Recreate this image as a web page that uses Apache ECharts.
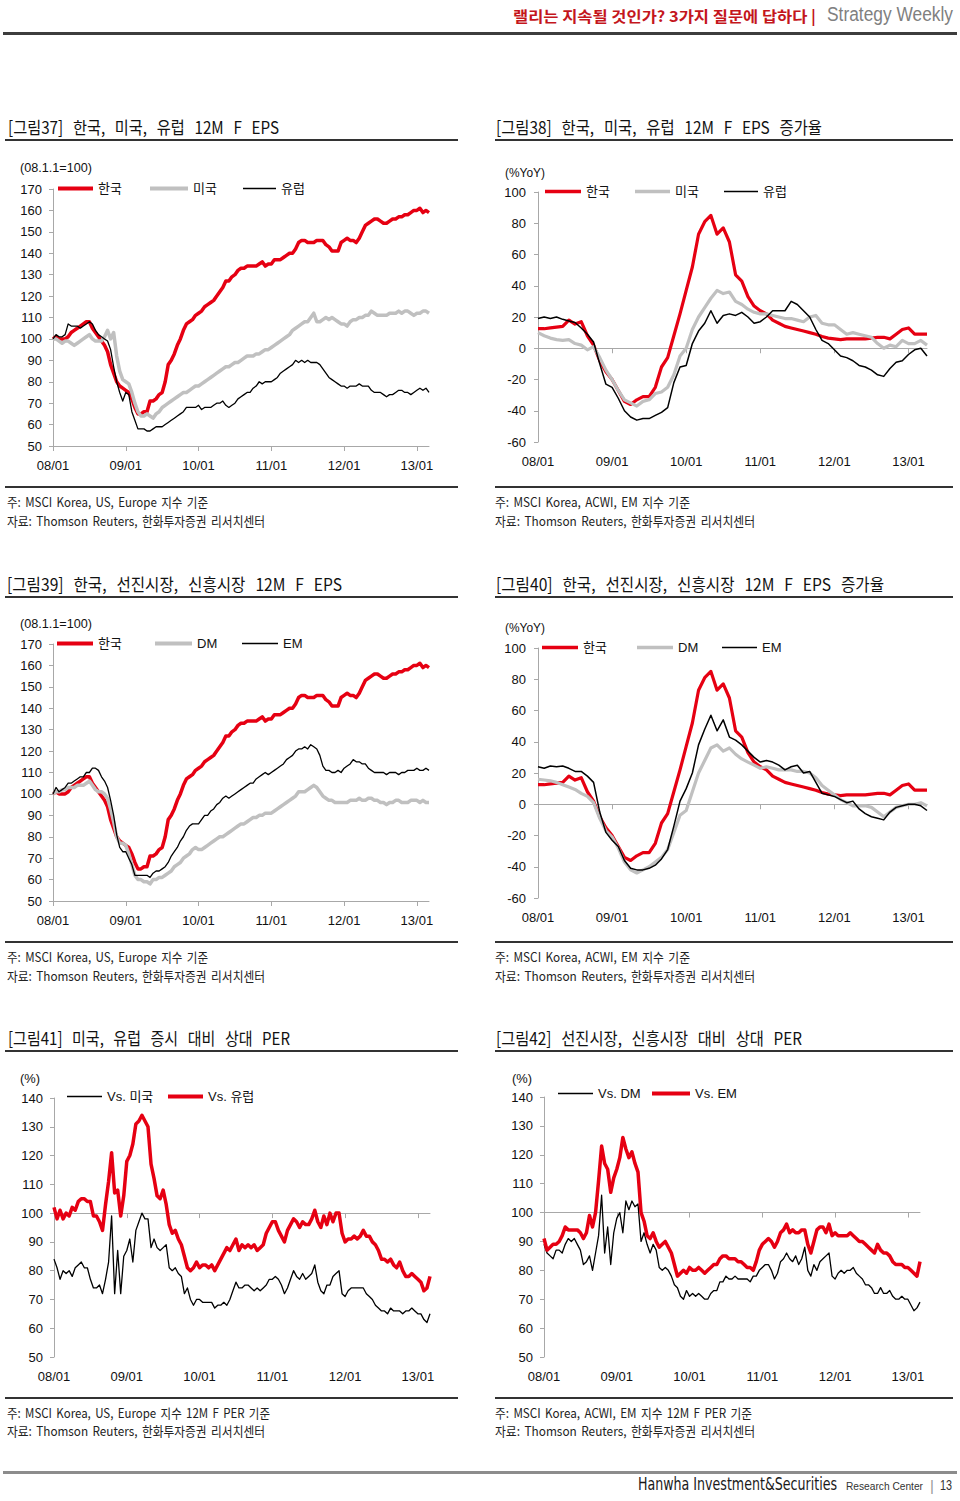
<!DOCTYPE html>
<html><head><meta charset="utf-8">
<script src="https://cdn.jsdelivr.net/npm/echarts@6/dist/echarts.min.js"></script>
<style>
html,body{margin:0;padding:0;background:#fff;}
#page{position:relative;width:960px;height:1501px;overflow:hidden;background:#fff;}
#chart{position:absolute;left:0;top:0;width:960px;height:1501px;}
.t{position:absolute;white-space:pre;line-height:1;transform-origin:0 50%;}
.rule{position:absolute;}
</style></head>
<body><div id="page"><div id="chart"></div></div>
<script>
// ---------------- DATA ----------------
const yearLabels = ['08/01','09/01','10/01','11/01','12/01','13/01'];

// semi-monthly index (1st & 16th of each month), Jan 2008 .. Mar 2013
const koreaEps = [
 100,101,100,100,100,101,103,104,105,106,107,108,108,105,103,101,99,97,94,88,84,80,78,77,
 76,75,72,68,65,65,66,66,71,71,72,74,75,80,88,90,93,97,100,104,107,108,109,111,
 112,113,115,116,117,118,120,122,124,127,127,129,130,132,133,133,134,134,134,134,135,136,134,135,
 135,137,137,137,138,139,140,140,142,145,146,146,145,145,145,146,146,146,144,143,141,141,141,145,
 146,147,146,146,145,147,150,153,154,155,156,156,155,154,154,155,156,156,157,157,158,158,159,160,
 160,161,159,160,159];
const usEps = [
 100,100,99,98,99,99,98,97,98,99,100,101,102,100,99,99,99,101,104,100,103,92,85,81,
 80,79,75,70,66,64,64,65,64,63,65,66,68,69,70,71,72,73,74,75,75,76,77,78,
 78,79,80,81,82,83,84,85,86,87,87,88,89,89,90,91,92,92,92,93,93,94,95,95,
 96,97,98,99,100,101,102,104,105,106,107,108,108,110,112,108,108,109,110,109,110,109,108,107,
 107,106,108,109,109,110,110,111,111,113,112,111,111,111,111,112,112,112,113,112,113,113,112,111,
 112,112,113,113,112];
const euEps = [
 100,102,101,101,102,107,106,106,106,105,106,107,108,107,104,102,101,100,99,95,87,80,75,71,
 75,74,66,62,58,58,58,57,57,58,59,59,59,60,61,62,63,64,65,66,68,68,68,68,
 69,67,68,68,68,69,70,70,71,69,68,69,70,72,73,74,75,75,77,78,80,79,80,80,
 80,81,82,84,85,86,87,88,90,89,90,89,90,89,89,89,88,86,84,82,81,80,79,78,
 78,77,78,78,78,79,78,78,78,76,75,75,75,74,73,74,74,75,76,76,75,75,74,75,
 76,77,76,77,75];
const dmEps = [
 100,101,101,102,102,103,103,103,104,104,104,105,106,104,102,101,101,100,98,93,87,80,77,77,
 76,72,67,62,60,60,59,59,58,60,60,61,61,62,63,64,66,67,68,70,71,72,74,75,
 74,74,75,76,77,78,79,80,80,81,82,83,84,85,86,86,87,88,89,89,90,90,91,91,
 91,92,93,94,95,96,97,98,99,101,101,101,102,103,104,103,101,99,98,97,97,96,96,96,
 96,96,97,97,97,98,97,97,98,98,97,97,96,96,95,96,96,97,97,96,96,96,97,97,
 97,96,97,96,96];
const emEps = [
 100,103,101,102,103,105,105,106,107,108,108,110,110,112,112,111,108,106,103,97,90,81,75,73,
 73,70,67,62,62,62,62,62,61,63,64,64,65,66,68,71,73,75,78,80,83,85,86,86,
 86,88,90,90,92,93,95,96,98,99,98,99,100,101,102,103,104,105,105,107,108,109,110,109,
 110,111,112,113,114,116,117,118,120,121,121,122,121,123,122,121,118,113,111,111,110,110,111,110,
 112,113,114,116,115,115,114,114,112,111,110,110,110,110,109,110,110,110,109,110,110,111,111,111,
 112,111,111,112,111];

// monthly YoY (%), Jan 2008 .. Apr 2013
const koreaYoY = [12.5,12.5,13,13.5,14,18,15.5,17,8,2, -8,-15,-20,-27,-34,-36,-33,-31,-31,-25,
 -12,-6,8,22,37,52,73,81,85,73, 77,68,47,43,33,27,24,22,18,16, 14,13,12,11,10,9,7.5,6.5,6,5.5,
 6,6,6,6,6.5,7,7,6,9,12, 13,9,9,9];
const usYoY = [10,8,6.5,5.5,5,5.5,3,2,-1,1, -6,-14,-20,-27,-33,-35,-37,-34,-33,-29,
 -28,-25,-17,-5,0,12,20,26,32,37, 35,36,30,28,25,23,22,22,21,20, 19,19,18,17,20,21,16,15,15,12,
 9,10,9,8,7,3,0,2,1,5, 3,3,5,2];
const euYoY = [19,20,19,20,18.5,17.5,16.5,13,9,4, -10,-23,-25,-32,-40,-44,-46,-45,-45,-43,
 -41,-38,-22,-12,-11,3,11,16,24,16, 21,22,21,23,20,16,17,20,24,24, 24,30,28,24,20,12,5,3,-1,-5,
 -6,-8,-11,-12,-14,-17,-18,-13,-9,-8, -4,-1,0,-5];
const dmYoY = [16,15.5,15,14,12.5,11,9.5,7,5,1, -9,-17,-21,-28,-37,-42,-44,-42,-40,-37,
 -34,-29,-18,-7,-4,8,20,28,36,38, 34,36,32,29,27,25,23,24,23,22, 22,22,21,21,20,17,12,9,6,3,
 1,-1,-1,-1,-2,-5,-8,-5,-2,-1, 0,0,1,-1];
const emYoY = [24,23,24.5,24,24.5,23,21,21,18,14, -5,-18,-23,-27,-36,-41,-42,-42,-41,-39,
 -35,-29,-14,2,10,20,38,48,57,47, 54,43,41,38,34,30,27,28,27,25, 22,24,25,20,21,14,7,6,5,3,
 1,2,-3,-6,-8,-9,-10,-5,-2,-1, 0,0,-1,-4];

// relative 12M F PER (%), semi-monthly
const perVsUs = [
 84,81,77,80,79,80,78,81,82,83,81,81,77,74,74,75,72,77,83,99,72,87,72,85,
 87,91,83,94,97,100,98,98,88,91,88,87,88,89,81,80,81,79,78,72,74,70,68,70,
 70,69,69,69,69,67,68,68,69,68,70,73,76,74,74,75,75,74,73,74,73,74,75,77,
 77,78,77,75,72,74,77,80,78,77,79,77,78,79,82,76,73,72,75,75,78,79,80,72,
 71,73,74,74,74,74,74,72,71,70,68,67,66,66,65,67,66,66,66,65,66,66,67,66,
 65,65,63,62,65];
const perVsEu = [
 102,98,101,98,100,99,102,101,104,105,105,104,104,99,99,97,94,103,111,121,107,108,99,106,
 118,120,124,131,132,134,132,130,117,112,106,105,108,103,96,93,94,91,89,85,81,80,81,83,
 81,82,82,81,82,80,82,84,86,88,87,89,91,87,89,88,89,88,89,87,88,89,93,95,
 97,97,94,92,90,94,96,98,97,95,97,96,96,98,101,97,95,99,96,100,97,100,100,93,
 90,91,91,92,91,92,94,92,92,90,89,87,84,84,83,84,82,81,83,80,78,78,79,78,
 77,76,73,74,78];
const perVsDm = [
 89,86,85,84,87,87,86,89,91,90,91,89,87,82,83,85,80,86,92,106,86,95,82,93,
 98,100,93,104,101,104,102,103,90,93,89,86,89,87,81,80,81,80,78,75,74,71,70,73,
 71,72,71,72,71,70,70,72,73,73,76,76,78,77,77,78,77,77,77,77,76,78,78,80,
 81,82,82,80,77,79,83,84,86,84,83,85,82,84,88,80,78,82,80,83,84,85,86,78,
 77,79,80,79,80,80,81,79,78,77,75,75,74,72,72,74,72,72,73,71,70,70,71,70,
 70,68,66,67,69];
const perVsEm = [
 91,87,88,89,89,90,92,95,94,94,94,94,93,91,93,99,95,100,111,123,117,115,107,112,
 115,119,126,122,119,121,117,114,100,97,92,91,93,90,88,89,90,88,86,82,78,79,80,79,
 81,80,80,81,80,79,80,81,82,82,84,85,85,84,84,84,83,83,82,81,81,80,83,87,
 89,90,91,90,88,90,93,94,96,93,94,93,93,94,94,89,86,90,94,95,95,93,96,92,
 93,92,92,92,92,93,92,91,90,90,89,88,87,86,89,87,86,86,85,83,82,82,82,81,
 81,80,79,78,83];

// category axes (dates)
const semiCats = [];
for (let i = 0; i < koreaEps.length; i++) {
  const y = 2008 + Math.floor(i / 24), m = Math.floor((i % 24) / 2) + 1, d = (i % 2) ? 16 : 1;
  semiCats.push(y + '-' + String(m).padStart(2, '0') + '-' + String(d).padStart(2, '0'));
}
const monthCats = [];
for (let i = 0; i < koreaYoY.length; i++) {
  const y = 2008 + Math.floor(i / 12), m = (i % 12) + 1;
  monthCats.push(y + '-' + String(m).padStart(2, '0'));
}

// ---------------- STYLE ----------------
const RED = '#e60012', GRAY = '#c0c0c0', BLACK = '#000000', AXIS = '#a8a8a8';
const axisFont = "'Liberation Sans', Arial, sans-serif";
const legendFont = "'Liberation Sans', 'Noto Sans CJK KR', sans-serif";

const grids = [], xAxes = [], yAxes = [], series = [], legends = [];

function addChart(cfg) {
  const gi = grids.length;
  grids.push(cfg.grid);
  const step = cfg.step;
  const tickFn = (i) => i % step === 0;
  const hasRef = cfg.ref !== undefined;
  const xi = xAxes.length;
  xAxes.push({
    type: 'category', gridIndex: gi, data: cfg.cats, boundaryGap: false, position: 'bottom',
    axisLine: { show: !hasRef, onZero: false, lineStyle: { color: AXIS, width: 1 } },
    axisTick: { show: !hasRef, interval: tickFn, length: 5, lineStyle: { color: AXIS } },
    axisLabel: { interval: tickFn, formatter: (v, i) => yearLabels[i / step], margin: cfg.xMargin,
      fontSize: 13, color: '#111', fontFamily: axisFont },
    splitLine: { show: false }
  });
  if (hasRef) {
    const off = cfg.grid.height * (cfg.ref - cfg.min) / (cfg.max - cfg.min);
    xAxes.push({
      type: 'category', gridIndex: gi, data: cfg.cats, boundaryGap: false, position: 'bottom', offset: -off,
      axisLine: { show: true, onZero: false, lineStyle: { color: AXIS, width: 1 } },
      axisTick: { show: true, interval: tickFn, length: 5, lineStyle: { color: AXIS } },
      axisLabel: { show: false }, splitLine: { show: false }
    });
  }
  const yi = yAxes.length;
  yAxes.push({
    type: 'value', gridIndex: gi, min: cfg.min, max: cfg.max, interval: cfg.interval,
    axisLine: { show: true, lineStyle: { color: AXIS, width: 1 } },
    axisTick: { show: true, length: 4, lineStyle: { color: AXIS } },
    axisLabel: { margin: cfg.yMargin, fontSize: 13, color: '#111', fontFamily: axisFont },
    splitLine: { show: false }
  });
  cfg.series.forEach(s => series.push({
    type: 'line', name: s.name, data: s.data, xAxisIndex: xi, yAxisIndex: yi,
    symbol: 'none', showSymbol: false, silent: true,
    lineStyle: { color: s.color, width: s.width, join: 'round' }, itemStyle: { color: s.color }
  }));
  cfg.legend.forEach(l => legends.push({
    data: [{ name: l.name, icon: 'rect' }], left: l.x, top: l.cy - 8, padding: 0,
    itemWidth: l.w, itemHeight: l.h, selectedMode: false,
    textStyle: { fontSize: 13, color: '#111', fontFamily: legendFont }
  }));
}

// [그림37]
addChart({ grid: { left: 53, top: 189, width: 376, height: 257 }, cats: semiCats, step: 24,
  min: 50, max: 170, interval: 10, xMargin: 13, yMargin: 11,
  series: [{ name: '한국', data: koreaEps, color: RED, width: 3.5 },
           { name: '미국', data: usEps, color: GRAY, width: 3.5 },
           { name: '유럽', data: euEps, color: BLACK, width: 1.3 }],
  legend: [{ name: '한국', x: 58, w: 35, cy: 190, h: 4 },
           { name: '미국', x: 150, w: 38, cy: 190, h: 4 },
           { name: '유럽', x: 243, w: 33, cy: 190, h: 1.5 }] });
// [그림38]
addChart({ grid: { left: 538, top: 192, width: 389, height: 250 }, cats: monthCats, step: 12,
  min: -60, max: 100, interval: 20, ref: 0, xMargin: 13, yMargin: 12,
  series: [{ name: '한국', data: koreaYoY, color: RED, width: 3.2 },
           { name: '미국', data: usYoY, color: GRAY, width: 3.2 },
           { name: '유럽', data: euYoY, color: BLACK, width: 1.5 }],
  legend: [{ name: '한국', x: 545, w: 36, cy: 193, h: 3.5 },
           { name: '미국', x: 635, w: 35, cy: 193, h: 3.5 },
           { name: '유럽', x: 724, w: 34, cy: 193, h: 1.5 }] });
// [그림39]
addChart({ grid: { left: 53, top: 644, width: 376, height: 257 }, cats: semiCats, step: 24,
  min: 50, max: 170, interval: 10, xMargin: 13, yMargin: 11,
  series: [{ name: '한국', data: koreaEps, color: RED, width: 3.5 },
           { name: 'DM', data: dmEps, color: GRAY, width: 3.5 },
           { name: 'EM', data: emEps, color: BLACK, width: 1.3 }],
  legend: [{ name: '한국', x: 57, w: 36, cy: 645, h: 4 },
           { name: 'DM', x: 155, w: 37, cy: 645, h: 4 },
           { name: 'EM', x: 242, w: 36, cy: 645, h: 1.5 }] });
// [그림40]
addChart({ grid: { left: 538, top: 648, width: 389, height: 250 }, cats: monthCats, step: 12,
  min: -60, max: 100, interval: 20, ref: 0, xMargin: 13, yMargin: 12,
  series: [{ name: '한국', data: koreaYoY, color: RED, width: 3.2 },
           { name: 'DM', data: dmYoY, color: GRAY, width: 3.2 },
           { name: 'EM', data: emYoY, color: BLACK, width: 1.5 }],
  legend: [{ name: '한국', x: 542, w: 36, cy: 649, h: 3.5 },
           { name: 'DM', x: 637, w: 36, cy: 649, h: 3.5 },
           { name: 'EM', x: 722, w: 35, cy: 649, h: 1.5 }] });
// [그림41]
addChart({ grid: { left: 54, top: 1098, width: 376, height: 259 }, cats: semiCats, step: 24,
  min: 50, max: 140, interval: 10, ref: 100, xMargin: 13, yMargin: 11,
  series: [{ name: 'Vs. 미국', data: perVsUs, color: BLACK, width: 1.3 },
           { name: 'Vs. 유럽', data: perVsEu, color: RED, width: 3.5 }],
  legend: [{ name: 'Vs. 미국', x: 67, w: 35, cy: 1098, h: 1.5 },
           { name: 'Vs. 유럽', x: 168, w: 35, cy: 1098, h: 4 }] });
// [그림42]
addChart({ grid: { left: 544, top: 1097, width: 376, height: 260 }, cats: semiCats, step: 24,
  min: 50, max: 140, interval: 10, ref: 100, xMargin: 13, yMargin: 11,
  series: [{ name: 'Vs. DM', data: perVsDm, color: BLACK, width: 1.3 },
           { name: 'Vs. EM', data: perVsEm, color: RED, width: 3.5 }],
  legend: [{ name: 'Vs. DM', x: 558, w: 35, cy: 1095, h: 1.5 },
           { name: 'Vs. EM', x: 652, w: 38, cy: 1095, h: 4 }] });

const chart = echarts.init(document.getElementById('chart'), null, { renderer: 'svg', width: 960, height: 1501 });
chart.setOption({
  animation: false, backgroundColor: '#ffffff',
  grid: grids, xAxis: xAxes, yAxis: yAxes, series: series, legend: legends
});

// ---------------- PAGE TEXT & RULES ----------------
const page = document.getElementById('page');
function addText(str, x, yc, w, css) {
  const s = document.createElement('span');
  s.className = 't';
  s.textContent = str;
  s.style.cssText += css;
  page.appendChild(s);
  const r = s.getBoundingClientRect();
  s.style.left = x + 'px';
  s.style.top = (yc - r.height / 2) + 'px';
  if (w) s.style.transform = 'scaleX(' + (w / r.width).toFixed(4) + ')';
}
function rule(x, y, w, h, color) {
  const d = document.createElement('div');
  d.className = 'rule';
  d.style.cssText += 'left:' + x + 'px;top:' + y + 'px;width:' + w + 'px;height:' + h + 'px;background:' + color + ';';
  page.appendChild(d);
}
const KR = "font-family:'Noto Sans CJK KR','Liberation Sans',sans-serif;";
const AR = "font-family:'Liberation Sans',Arial,sans-serif;";

// header
addText('랠리는 지속될 것인가? 3가지 질문에 답하다 |', 513, 15, 303, KR + 'font-size:15px;font-weight:700;color:#c4161c;');
addText('Strategy Weekly', 827, 14, 126, AR + 'font-size:20px;color:#808080;');
rule(3, 32, 954, 3, '#3d3d3d');

// titles
const TT = KR + 'font-size:17px;color:#111;word-spacing:7px;';
addText('[그림37] 한국, 미국, 유럽 12M F EPS', 8, 126.5, 271, TT);
addText('[그림38] 한국, 미국, 유럽 12M F EPS 증가율', 496, 126.5, 326, TT);
addText('[그림39] 한국, 선진시장, 신흥시장 12M F EPS', 7, 583, 335, TT);
addText('[그림40] 한국, 선진시장, 신흥시장 12M F EPS 증가율', 496, 583, 388, TT);
addText('[그림41] 미국, 유럽 증시 대비 상대 PER', 8, 1037.5, 282, TT);
addText('[그림42] 선진시장, 신흥시장 대비 상대 PER', 496, 1037.5, 306, TT);
[139, 595.5, 1050].forEach(y => { rule(5, y, 453, 2, '#333'); rule(495, y, 458, 2, '#333'); });
[485.5, 941, 1397].forEach(y => { rule(5, y, 453, 2, '#333'); rule(495, y, 458, 2, '#333'); });

// unit labels
const UL = AR + 'font-size:13px;color:#111;';
addText('(08.1.1=100)', 20, 167.5, 72, UL);
addText('(%YoY)', 505, 172, 40, UL);
addText('(08.1.1=100)', 20, 623.5, 72, UL);
addText('(%YoY)', 505, 627, 40, UL);
addText('(%)', 20, 1078, 20, UL);
addText('(%)', 512, 1078, 20, UL);

// notes
const NT = KR + 'font-size:13px;color:#222;word-spacing:2px;';
const src = '자료: Thomson Reuters, 한화투자증권 리서치센터';
[[501.5, 520, '주: MSCI Korea, US, Europe 지수 기준', 201, '주: MSCI Korea, ACWI, EM 지수 기준', 195],
 [956.5, 975, '주: MSCI Korea, US, Europe 지수 기준', 201, '주: MSCI Korea, ACWI, EM 지수 기준', 195],
 [1412, 1430.5, '주: MSCI Korea, US, Europe 지수 12M F PER 기준', 263, '주: MSCI Korea, ACWI, EM 지수 12M F PER 기준', 257]
].forEach(r => {
  addText(r[2], 7, r[0], r[3], NT);
  addText(src, 7, r[1], 258, NT);
  addText(r[4], 495, r[0], r[5], NT);
  addText(src, 495, r[1], 260, NT);
});

// footer
rule(3, 1471, 954, 3, '#8c8c8c');
addText('Hanwha Investment&Securities', 638, 1484, 199, "font-family:'DejaVu Sans',sans-serif;font-size:17px;color:#1a1a1a;");
addText('Research Center', 846, 1486, 77, AR + 'font-size:11px;color:#333;');
addText('|', 930, 1485, 0, AR + 'font-size:15px;color:#999;');
addText('13', 940, 1485, 12, AR + 'font-size:14px;color:#333;');
</script></body></html>
